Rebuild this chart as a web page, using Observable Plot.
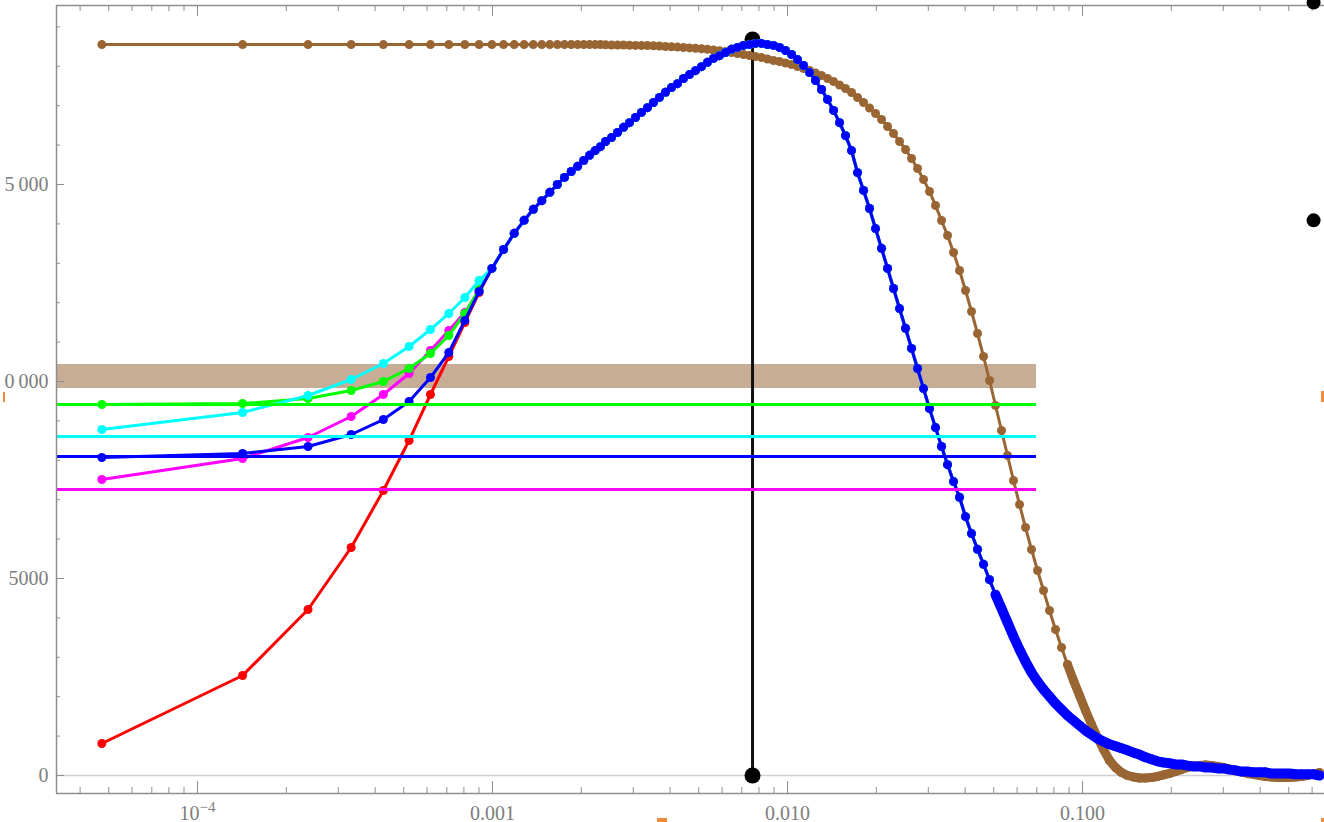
<!DOCTYPE html>
<html><head><meta charset="utf-8">
<script src="https://cdn.jsdelivr.net/npm/d3@7"></script>
<script src="https://cdn.jsdelivr.net/npm/@observablehq/plot@0.6"></script>
<style>
html,body{margin:0;padding:0;background:#fff;overflow:hidden;width:1324px;height:822px;position:relative}
svg{display:block}
.mk{position:absolute;background:#f28a3c}
</style></head><body>
<div id="chart"></div>
<div class="mk" style="left:3px;top:392px;width:2px;height:10px"></div>
<div class="mk" style="left:1321px;top:391px;width:3px;height:11px"></div>
<div class="mk" style="left:657px;top:818px;width:10px;height:4px"></div>
<div class="mk" style="left:1321px;top:818px;width:3px;height:4px"></div>
<script>
// ---------- x grid (sample positions) ----------
const xLin = [4.74e-5,1.422e-4,2.37e-4,3.318e-4,4.266e-4,5.214e-4,6.162e-4,7.11e-4,8.058e-4,9.006e-4,
  9.954e-4,1.090e-3,1.185e-3,1.280e-3,1.375e-3,1.469e-3,1.564e-3,1.659e-3,1.754e-3,1.849e-3,1.943e-3,2.038e-3,2.133e-3,2.228e-3,2.322e-3,2.417e-3];
const xGeo = [2.532e-3,2.653e-3,2.780e-3,2.913e-3,3.053e-3,3.199e-3,3.352e-3,3.513e-3,3.681e-3,3.858e-3,
  4.043e-3,4.236e-3,4.440e-3,4.653e-3,4.876e-3,5.110e-3,5.354e-3,5.611e-3,5.880e-3,6.162e-3,
  6.457e-3,6.767e-3,7.091e-3,7.431e-3,7.787e-3,8.161e-3,8.552e-3,8.962e-3,9.392e-3,9.844e-3,
  1.0318e-2,1.0812e-2,1.1331e-2,1.1873e-2,1.2443e-2,1.3039e-2,1.3665e-2,1.4320e-2,1.5007e-2,1.5726e-2,
  1.6482e-2,1.7271e-2,1.8099e-2,1.8967e-2,1.9876e-2,2.0830e-2,2.1827e-2,2.2874e-2,2.3971e-2,2.5119e-2,
  2.6323e-2,2.7586e-2,2.8907e-2,3.0294e-2,3.1746e-2,3.3266e-2,3.4863e-2,3.6533e-2,3.8285e-2,4.0119e-2,
  4.2042e-2,4.4058e-2,4.6170e-2,4.8385e-2,5.0704e-2,5.3133e-2,5.5683e-2,5.8350e-2,6.1148e-2,6.4078e-2,
  6.7149e-2,7.0373e-2,7.3746e-2,7.7280e-2,8.0985e-2,8.4866e-2,8.8935e-2,9.3198e-2,9.7679e-2,0.10237,
  0.10728,0.11242,0.11781,0.12346,0.12938,0.13558,0.14208,0.14889,0.15603,0.16350,
  0.17134,0.17955,0.18816,0.19718,0.20663,0.21654,0.22692,0.23780,0.24920,0.26115,
  0.27367,0.28679,0.30053,0.31494,0.33004,0.34586,0.36244,0.37981,0.39811,0.41718,
  0.43718,0.45814,0.48011,0.50313,0.52723,0.55250,0.57899,0.60676,0.63585];

// ---------- series values ----------
// first ten samples, where the five coloured series differ
const redHead     = [812,2538,4213,5787,7233,8502,9670,10634,11497,12259];
const magentaHead = [7512,8045,8578,9111,9670,10203,10787,11294,11751,12309];
const greenHead   = [9416,9441,9568,9771,10000,10330,10710,11167,11726,12335];
const cyanHead    = [8781,9213,9644,10050,10457,10888,11319,11726,12132,12563];
const blueHead    = [8071,8172,8350,8655,9035,9492,10101,10736,11548,12284];
// remaining samples, where they coincide
const commonTail = [12870,13350,13760,14090,14370,14590,14800,15000,15180,15330,15460,15610,15740,15860,15960,16090,
  16190,16320,16450,16570,16700,16830,16950,17080,17210,17340,
  17460,17560,17690,17790,17890,17990,18100,18200,18270,18350,
  18430,18480,18530,18550,18580,18580,18550,18530,18480,18400,
  18300,18170,18020,17840,17640,17410,17160,16880,16570,16240,
  15860,15300,14850,14390,13880,13380,12870,12360,11850,11350,
  10840,10330,9820,9310,8830,8350,7890,7460,7060,6570,
  6140,5740,5360,4970,4590,4240,3883,3528,3198,2893,
  2614,2386,2183,2005,1827,1675,1523,1396,1269,1142,
  1041,939,863,790,740,690,640,580,530,460,
  410,360,330,310,280,280,250,230,230,200,
  200,180,180,150,130,100,100,80,80,80,
  50,50,50,50,30,30,30,30,0];
const brownY = [18550,18550,18550,18550,18550,18550,18550,18550,18550,18550,
  18550,18550,18550,18550,18550,18550,18550,18550,18550,18550,18550,18550,18550,18550,18550,18545,
  18540,18540,18540,18535,18530,18527,18527,18520,18514,18502,
  18494,18487,18476,18466,18456,18446,18431,18413,18395,18375,
  18350,18324,18299,18274,18248,18223,18185,18147,18121,18083,
  18045,17994,17944,17893,17830,17766,17690,17614,17525,17436,
  17335,17208,17081,16941,16802,16649,16472,16294,16091,15888,
  15660,15406,15127,14822,14467,14086,13705,13274,12817,12309,
  11776,11218,10634,10025,9391,8756,8122,7487,6878,6294,
  5736,5203,4695,4188,3705,3249,2817,2411,2030,1650,
  1294,964,660,381,203,76,0,-38,-63,-63,
  -51,-25,13,51,102,152,203,241,254,266,
  254,228,203,165,127,89,51,25,0,-25,
  -38,-51,-51,-51,-38,-25,0,38,76];

// horizontal reference levels
const levelNames  = ["green","cyan","blue","magenta"];
const levelValues = [9416,8604,8096,7259];
const levelColors = ["#00ff00","#00ffff","#0000ff","#ff00ff"];
const levelEndX   = 0.0698;
const bandLow = 9822, bandHigh = 10431;

// black markers
const stemX = [0.00761];
const stemY = [0, 18680];
const edgeX = [0.607, 0.607];
const edgeY = [14090, 19620];

// axis ticks
const xMajor = [1e-4, 1e-3, 1e-2, 1e-1];
const xLabels = ["10^-4", "0.001", "0.010", "0.100"];
const xMinor = [4e-5,5e-5,6e-5,7e-5,8e-5,9e-5,2e-4,3e-4,4e-4,5e-4,6e-4,7e-4,8e-4,9e-4,
  2e-3,3e-3,4e-3,5e-3,6e-3,7e-3,8e-3,9e-3,2e-2,3e-2,4e-2,5e-2,6e-2,7e-2,8e-2,9e-2,0.2,0.3,0.4,0.5,0.6];
const yMajor = [0, 5000, 10000, 15000];
const yLabels = ["0", "5000", "0\u2009000", "5\u2009000"];
const yMinor = [1000,2000,3000,4000,6000,7000,8000,9000,11000,12000,13000,14000,16000,17000,18000,19000];

const xMin = 3.327e-5, xMax = 0.661, yMin = -457, yMax = 19543;

// ---------- build tables ----------
const xAll = xLin.concat(xGeo);
const mk = (ys) => xAll.map((x, i) => ({x, y: ys[i]}));
const series = [
  {name: "red", color: "#ff0000", data: mk(redHead.concat(commonTail))},
  {name: "magenta", color: "#ff00ff", data: mk(magentaHead.concat(commonTail))},
  {name: "green", color: "#00ff00", data: mk(greenHead.concat(commonTail))},
  {name: "cyan", color: "#00ffff", data: mk(cyanHead.concat(commonTail))},
  {name: "blue", color: "#0000ff", data: mk(blueHead.concat(commonTail))}
];
const brown = mk(brownY);
const levels = levelValues.map((v, i) => ({name: levelNames[i], v, color: levelColors[i]}));
const xLabelMap = new Map(xMajor.map((v, i) => [v, xLabels[i]]));
const yLabelMap = new Map(yMajor.map((v, i) => [v, yLabels[i]]));
const brownC = "#996633";
const axisGray = "#8e8e8e";
const labelGray = "#7d7d7d";

const marks = [
  Plot.ruleY([0], {stroke: "#d0d0d0", strokeWidth: 1.5}),
  Plot.rect([{x1: xMin, x2: levelEndX, y1: bandLow, y2: bandHigh}], {x1: "x1", x2: "x2", y1: "y1", y2: "y2", fill: "#c8ad96"}),
  Plot.ruleX(stemX, {x: d => d, y1: stemY[0], y2: stemY[1], stroke: "#111", strokeWidth: 3}),
  Plot.dot(stemY.map(y => ({x: stemX[0], y})), {x: "x", y: "y", r: 8, fill: "#000", stroke: "none"}),
  // brown
  Plot.line(brown, {x: "x", y: "y", stroke: brownC, strokeWidth: 3}),
  Plot.line(brown.filter(d => d.x >= 0.088), {x: "x", y: "y", stroke: brownC, strokeWidth: 9}),
  Plot.dot(brown, {x: "x", y: "y", r: 4.5, fill: brownC, stroke: "none"})
];
for (const s of series) {
  marks.push(Plot.line(s.data, {x: "x", y: "y", stroke: s.color, strokeWidth: 3}));
  marks.push(Plot.dot(s.data, {x: "x", y: "y", r: 4.5, fill: s.color, stroke: "none"}));
}
marks.push(Plot.line(series[4].data.filter(d => d.x >= 0.05), {x: "x", y: "y", stroke: "#0000ff", strokeWidth: 10}));
marks.push(
  Plot.ruleY(levels, {y: "v", x1: xMin, x2: levelEndX, stroke: "color", strokeWidth: 3}),
  // frame
  Plot.ruleX([xMin], {stroke: axisGray, strokeWidth: 1.5}),
  Plot.ruleY([yMin], {stroke: axisGray, strokeWidth: 1.5}),
  Plot.ruleY([yMax], {stroke: axisGray, strokeWidth: 1.5}),
  // ticks
  Plot.axisX({anchor: "bottom", ticks: xMajor, tickSize: -12, tickFormat: () => "", color: axisGray}),
  Plot.axisX({anchor: "bottom", ticks: xMinor, tickSize: -6, tickFormat: () => "", color: axisGray}),
  Plot.axisX({anchor: "top", ticks: xMajor, tickSize: -10, tickFormat: () => "", color: axisGray}),
  Plot.axisX({anchor: "top", ticks: xMinor, tickSize: -5, tickFormat: () => "", color: axisGray}),
  Plot.axisY({anchor: "left", ticks: yMajor, tickSize: -8, tickFormat: () => "", color: axisGray}),
  Plot.axisY({anchor: "left", ticks: yMinor, tickSize: -4, tickFormat: () => "", color: axisGray}),
  // labels
  Plot.axisX({anchor: "bottom", ticks: xMajor, tickSize: 0, tickPadding: 12, tickFormat: d => xLabelMap.get(d), color: labelGray, fontSize: 20}),
  Plot.axisY({anchor: "left", ticks: yMajor, tickSize: 0, tickPadding: 8, tickFormat: d => yLabelMap.get(d), color: labelGray, fontSize: 20}),
  // edge markers
  Plot.dot(edgeY.map((y, i) => ({x: edgeX[i], y})), {x: "x", y: "y", r: 7, fill: "#000", stroke: "none"})
);

const chart = Plot.plot({
  width: 1324, height: 822,
  marginLeft: 56, marginRight: 0, marginTop: 5, marginBottom: 29,
  x: {type: "log", domain: [xMin, xMax]},
  y: {domain: [yMin, yMax]},
  style: {fontFamily: "'Liberation Serif', serif", fontSize: "20px", background: "#fff", overflow: "visible"},
  marks
});
// typeset the power-of-ten label "10^-4" with a real superscript
const NS = "http://www.w3.org/2000/svg";
chart.querySelectorAll("text").forEach(t => {
  const s = t.textContent;
  const m = s.match(/^(\d+)\^(-?\d+)$/);
  if (m) {
    while (t.firstChild) t.removeChild(t.firstChild);
    t.appendChild(document.createTextNode(m[1]));
    const sup = document.createElementNS(NS, "tspan");
    sup.setAttribute("dy", "-0.5em");
    sup.setAttribute("font-size", "15");
    sup.textContent = m[2].replace("-", "\u2212");
    t.appendChild(sup);
  }
});
document.getElementById("chart").append(chart);
</script></body></html>
